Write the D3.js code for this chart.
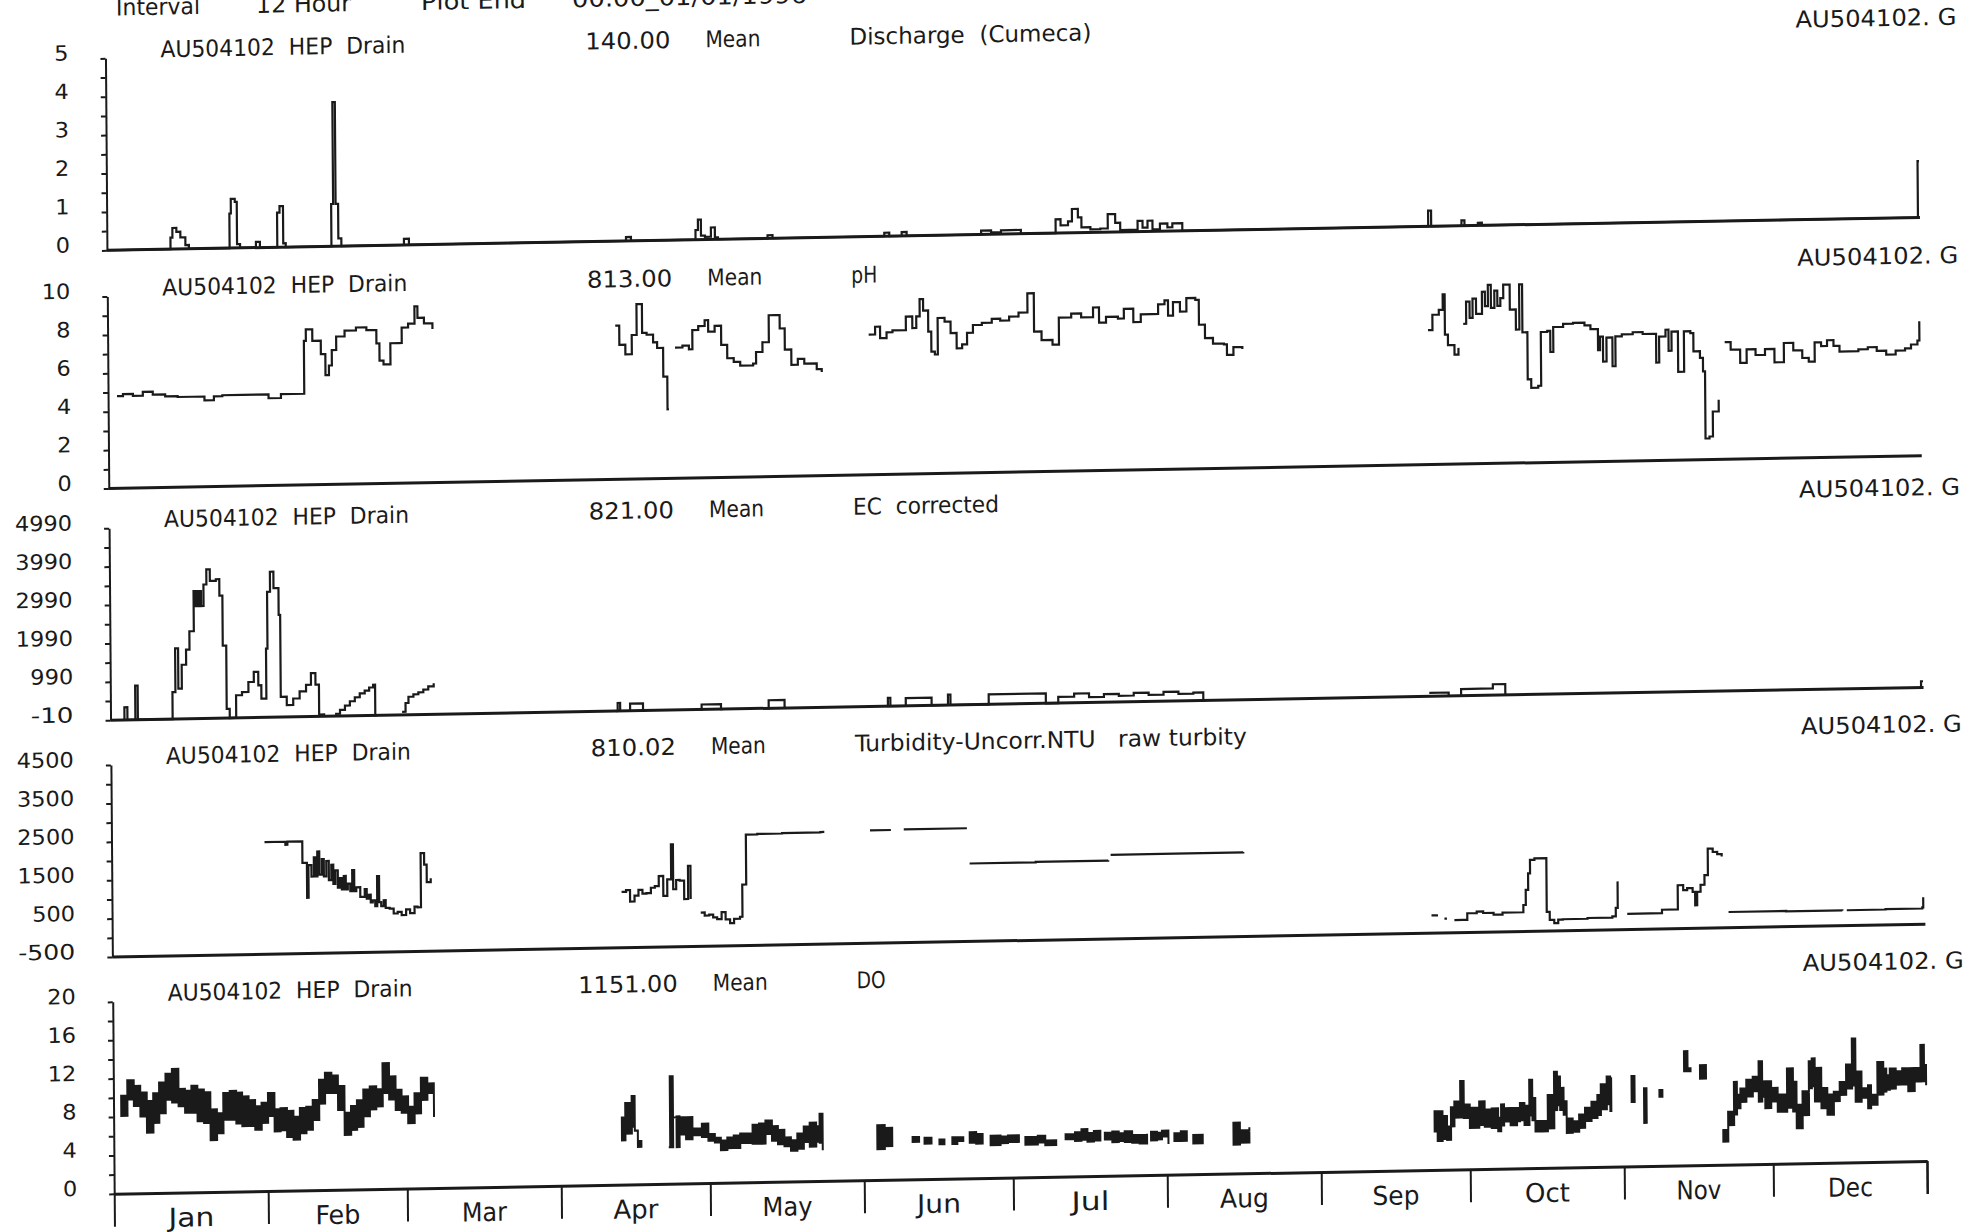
<!DOCTYPE html>
<html><head><meta charset="utf-8">
<script src="https://cdn.jsdelivr.net/npm/d3@7"></script>
<style>
html,body{margin:0;padding:0;background:#fff;overflow:hidden}
text{font-family:"DejaVu Sans Condensed","DejaVu Sans",sans-serif;font-stretch:condensed;fill:#1a1a1a;white-space:pre}
</style></head><body>
<svg id="chart" width="1975" height="1232"></svg>
<script>
const YEAR = 1995;
const months = ["Jan","Feb","Mar","Apr","May","Jun","Jul","Aug","Sep","Oct","Nov","Dec"];
const headerLabels = ["Interval","12 Hour","Plot End","00.00_01/01/1996"];
const stationLabel = "AU504102  HEP  Drain";
const fileLabel = "AU504102. G";
const panelMeans = ["140.00","813.00","821.00","810.02","1151.00"];
const meanWord = "Mean";
const panelNames = ["Discharge  (Cumeca)","pH","EC  corrected","Turbidity-Uncorr.NTU   raw turbity","DO"];
const panelDomains = [[0,5],[0,10],[-10,4990],[-500,4500],[0,20]];
const panelTickLabels = [
  [0,1,2,3,4,5],
  [0,2,4,6,8,10],
  [-10,990,1990,2990,3990,4990],
  [-500,500,1500,2500,3500,4500],
  [0,4,8,12,16,20]
];

// ---- Discharge (day of year, cumecs)
const dischargeSeg = [[0,0],[12.8,0.3],[13.2,0.55],[14,0.45],[14.8,0.3],[15.8,0.1],[16.5,0],
[24.7,0.9],[25,1.28],[25.8,1.2],[26.2,0.1],[26.8,0],[30,0.15],[30.8,0],
[34.3,0.9],[34.8,1.07],[35.5,0.1],[36,0],[45.2,1.1],[45.6,3.75],[46.1,1.1],[46.6,0.2],[47.2,0],
[59.8,0.16],[60.8,0],[104.5,0.1],[105.5,0],
[118.5,0.25],[119,0.52],[119.6,0.1],[120.4,0.07],[121.6,0.31],[122.4,0.05],[123,0],
[133,0.08],[134,0],[156.5,0.09],[157.5,0],[160,0.1],[161,0],
[176,0.1],[178,0.05],[180,0.1],[182,0.1],[184,0],
[191,0.36],[192,0.2],[193.5,0.3],[194.3,0.62],[195.5,0.4],[196.2,0.14],[198,0.08],[200,0.1],[201.5,0.47],[203,0.24],[204,0.05],[207.5,0.28],[208.5,0.1],[209.5,0.28],[210.5,0.05],[212,0.2],[213.5,0.1],[214.5,0.2],[216.5,0],
[266,0.41],[266.6,0],[272.7,0.14],[273.3,0],[276,0.07],[276.8,0],[364.6,1.47],[364.9,1.47]];

// ---- pH
const phA = [[1.8,4.8],[3,4.9],[5,4.8],[7,5.0],[9,4.85],[11.5,4.75],[14,4.7],[17,4.7],[19.4,4.5],[21.3,4.7],[23,4.75],[27,4.75],[32.3,4.55],[34.8,4.75],[39.5,7.5],[39.9,8.1],[41.2,7.5],[42.9,6.8],[43.8,5.7],[44.5,6.2],[45.1,7.0],[46,7.7],[47.7,8.0],[50,8.15],[52.1,8.0],[54.1,7.3],[54.7,6.4],[55.5,6.2],[56.9,7.3],[58.6,7.3],[59.2,8.1],[60.5,8.3],[61.8,9.2],[62.4,8.6],[63.7,8.3],[65.4,8.0]];
const phB1 = [[102.2,8.0],[103,7.0],[104.2,6.5],[105.5,7.5],[106.5,9.1],[107.6,7.6],[108.5,7.5],[109.8,7.1],[110.6,6.8],[111.8,5.3],[112.6,3.6],[112.9,3.6]];
const phB2 = [[114.2,6.8],[115.7,6.9],[117,6.7],[117.7,7.7],[118.9,7.9],[120.2,8.2],[120.9,7.6],[122.2,7.9],[123.5,6.9],[124.7,6.2],[126,6.0],[127.3,5.8],[129.9,5.9],[130.5,6.5],[131.8,7.0],[133.1,8.4],[134.4,8.4],[135.3,7.7],[136.3,6.6],[137.6,5.8],[138.9,6.1],[140.2,5.85],[142.7,5.55],[143.7,5.4]];
const phC = [[153.2,7.3],[154.5,7.7],[155.5,7.1],[156.8,7.4],[158,7.5],[160.7,8.2],[162,7.6],[162.8,8.2],[163.5,9.1],[164.2,8.5],[165.2,7.4],[165.8,6.35],[166.5,6.2],[167.1,8.1],[168.5,7.9],[169.7,7.3],[170.9,6.5],[172,6.7],[173,7.3],[174.2,7.7],[176,7.8],[178,8.0],[179.7,7.9],[181.5,8.1],[183.4,8.3],[185.2,9.3],[186.5,7.3],[188,6.85],[190.2,6.6],[191.5,8.0],[194,8.2],[196,8.0],[198.4,8.5],[199.6,7.7],[201,8.0],[203.4,7.9],[204.6,8.4],[206.5,7.7],[208,8.1],[210.3,8.1],[211.5,8.6],[212.8,8.8],[213.5,8.0],[214.5,8.7],[215.9,8.2],[217.2,8.9],[219,8.8],[219.7,7.5],[220.9,6.8],[222.5,6.5],[224.7,6.45],[225.3,5.9],[226.6,6.3],[228.4,6.2]];
const phD1 = [[265.8,7.0],[266.7,7.8],[268,8.05],[268.8,8.85],[269.2,6.75],[269.8,6.2],[271.1,5.7],[271.9,6.05]];
const phD2 = [[272.9,7.3],[273.5,8.45],[274.2,7.6],[274.8,8.6],[275.5,7.8],[276.7,8.95],[277.3,8.2],[277.9,9.3],[278.5,8.1],[279.2,9.0],[279.8,8.2],[280.4,8.6],[281,9.3],[282.3,8.0],[283.5,6.95],[284.2,9.3],[284.8,6.8],[285.8,4.35],[286.5,3.9],[287.9,4.0],[288.5,6.8],[289.8,6.85],[290.4,5.75],[291,7.05],[293,7.2],[295,7.25],[297.3,7.1],[298.5,6.9],[300,5.8],[300.4,6.5],[301,5.2],[301.7,6.45],[302.9,4.95],[303.5,6.5],[304.8,6.6],[307,6.7],[309,6.6],[311.1,6.6],[311.7,5.1],[312.3,6.45],[313.6,6.8],[314.2,5.7],[314.8,6.7],[316.1,4.6],[317.3,6.7],[318.6,6.6],[319.2,5.65],[320.5,5.3],[321.1,4.6],[321.5,1.1],[322.3,1.2],[323,2.5],[324.2,3.1]];
const phD3 = [[325.5,6.1],[326.7,5.7],[328.6,5.0],[329.9,5.7],[331.7,5.4],[333.6,5.7],[335.5,5.0],[337.4,6.0],[339.3,5.6],[341.1,5.2],[342.4,5.0],[343.6,6.0],[344.9,5.8],[346.1,6.1],[347.4,5.8],[348.6,5.5],[350.5,5.5],[352.4,5.6],[354.3,5.7],[356.1,5.5],[358,5.3],[359.9,5.5],[361.8,5.6],[363,5.8],[364.3,6.0],[364.7,7.0]];

// ---- EC corrected
const ecA = [[2.5,-10],[2.8,320],[3.4,-10],[4.9,-10],[5.0,880],[5.5,-10],[12.4,-10],[12.5,690],[13.1,1830],[13.7,780],[14.4,1400],[15.3,1790],[16.0,2270],[16.9,3310],[17.2,2920],[17.5,3310],[17.8,2920],[18.1,3310],[18.4,2920],[18.9,3480],[19.5,3870],[20.2,3570],[21.4,3610],[22.1,3180],[22.7,1880],[23.4,230],[24.0,-10],[25.0,-10],[25.3,580],[26.5,660],[27.8,920],[28.9,1180],[29.8,830],[30.4,480],[31.4,1780],[31.7,3260],[32.3,3780],[33.0,3350],[34.0,2650],[34.3,520],[35.5,300],[36.8,470],[38.1,650],[39.4,820],[40.4,1120],[41.3,820],[42.0,40],[43,-10]];
const ecB = [[45.2,50],[46.2,150],[47.2,260],[48.2,370],[49.2,470],[50.2,570],[51.2,640],[52.1,720],[52.9,790],[53.3,-10],[53.6,-10]];
const ecC = [[58.7,70],[59.4,300],[60,460],[61,520],[62,570],[63,640],[64,720],[65.1,800]];
const ecD = [[101.8,-10],[102.1,200],[102.6,-10],[104.6,176],[107.2,-10],[107.6,-10]];
const ecE = [[118.7,-10],[119.0,120],[122.9,-10],[123.3,-10]];
const ecF = [[132.2,-10],[132.5,200],[135.7,-10],[136,-10]];
const ecG = [[156.3,-10],[156.5,205],[157.0,-10],[160.1,190],[165.3,-10],[168.6,260],[169.1,-10],[176.8,250],[188.3,-10],[190.8,150],[194,230],[197,130],[200,200],[203,150],[206,220],[209,160],[212,230],[215,170],[218,200],[220,-10],[220.5,-10]];
const ecH = [[265.5,80],[269.4,-10],[271.9,165],[276,165],[278.3,275],[280.8,-10],[281.2,-10]];
const ecI = [[364.3,-10],[364.5,150],[364.9,150]];

// ---- Turbidity
const tuA = [[30.8,2420],[34.8,2420],[35,2340],[35.4,2420],[38.4,1860],[39.3,950],[39.6,1800],[40.2,1500],[40.7,2000],[41.1,1500],[41.4,2150],[41.8,1550],[42.3,1950],[42.7,1500],[43.2,1900],[43.7,1400],[44.2,1800],[44.6,1300],[45,1650],[45.5,1200],[45.9,1450],[46.3,1150],[46.7,1500],[47.1,1150],[47.5,1300],[48,1100],[48.4,1650],[48.8,1100],[49.2,1200],[50,950],[50.9,1150],[51.3,900],[51.7,1000],[52.1,800],[52.5,850],[53,700],[53.4,1480],[53.8,800],[54.2,700],[54.7,850],[55.1,650],[55.9,630],[56.7,500],[57.5,540],[58.3,455],[59.2,600],[60,500],[60.9,670],[61.5,650],[62.2,2060],[62.9,1760],[63.4,1300],[64.2,1400]];
const tuB = [[102.6,955],[103.5,1000],[104.3,700],[105.2,850],[106,1000],[106.8,900],[107.6,910],[108.5,1050],[109.3,1090],[110.1,1350],[111,830],[111.8,1260],[112.6,2170],[113,1000],[113.6,1240],[114.3,1220],[115.2,740],[116,1600],[116.5,740]];
const tuC = [[118.5,380],[119.3,300],[120.2,320],[121,250],[121.8,200],[122.7,380],[123.5,190],[124.4,90],[125.2,200],[126.4,250],[126.9,1090],[127.7,2390],[130,2400],[135,2410],[142.7,2420],[143.5,2420]];
const tuD = [[152.7,2440],[156.9,2440]];
const tuE = [[159.5,2450],[172.2,2450]];
const tuF = [[172.7,1530],[186,1540],[200.6,1550]];
const tuG = [[201.1,1690],[214,1690],[227.8,1700]];
const tuH = [[265.6,-40],[266.9,-40]];
const tuI = [[268.2,-130],[268.7,-130]];
const tuJ = [[270.2,-170],[271.9,-170],[272.8,0],[274.7,40],[276,0],[278.1,-50],[279.9,0],[284.1,190],[284.6,580],[285.1,1010],[285.5,1360],[286.4,1400],[288.8,0],[289.4,-210],[290.3,-300],[291.1,-210],[292,-200],[297,-180],[302,-150],[302.7,70],[303.1,760]];
const tuK = [[305,-90],[312,0],[315.2,630],[316.3,500],[317.1,550],[318.2,450],[318.7,100],[319.1,450],[319.8,630],[320.6,880],[321.3,1570],[322.3,1480],[323.2,1420],[324.1,1360]];
const tuL = [[325.4,-90],[337,-100],[348.3,-110]];
const tuM = [[349.2,-100],[357,-90],[364.4,-60],[364.6,200]];

// ---- DO: [day, low, high]
const doA = [[1.55,8.1,10.2],[2.8,9.8,11.8],[4.1,9.1,11.2],[5.4,8.0,10.5],[6.7,6.3,9.6],[8.0,7.3,10.4],[9.2,8.3,11.5],[10.5,9.7,12.4],[11.8,9.4,12.9],[13.1,9.0,10.8],[14.4,8.3,10.6],[15.7,8.3,11.1],[16.9,7.4,10.7],[18.2,7.2,10.4],[19.5,5.4,8.6],[20.8,6.1,8.2],[22.1,7.5,10.3],[23.4,7.5,10.5],[24.7,7.1,10.3],[25.9,6.8,9.9],[27.2,6.8,9.5],[28.5,6.4,8.85],[29.8,7.1,9.2],[31.1,7.8,10.2],[32.4,6.2,8.5],[33.6,6.3,8.6],[34.9,5.6,8.3],[36.2,5.3,7.7],[37.5,5.95,8.6],[38.8,6.3,8.7],[40.1,7.3,9.4],[41.4,9.0,11.5],[42.6,10.1,12.2],[43.9,10.1,11.9],[45.2,8.3,10.8],[46.5,5.7,8.0],[47.8,6.2,8.7],[49.0,6.5,9.3],[50.3,7.6,10.4],[51.6,8.3,10.7],[52.9,8.6,10.4],[54.2,10.0,13.1],[55.5,9.3,11.7],[56.8,8.2,10.3],[58.0,7.9,9.6],[59.3,6.8,8.5],[60.6,7.8,9.9],[61.9,9.2,11.5],[63.2,9.9,10.9],[64.5,7.4,9.9]];
const doB = [[102.3,4.6,7.0],[103.0,5.3,8.5],[104.3,6.0,9.2],[104.9,5.6,5.6],[105.5,3.9,4.5],[106.2,3.9,4.5]];
const doC = [[111.7,3.8,3.8],[112.0,3.8,11.2],[112.6,6.9,6.9],[113.3,3.8,7.0],[113.9,5.1,6.9],[115.2,4.6,6.9],[116.5,5.0,5.7],[118.4,4.8,6.2],[119.7,4.4,5.1],[121.0,4.2,4.7],[122.2,3.4,4.4],[123.5,3.6,4.7],[124.8,3.6,4.9],[126.1,4.1,5.1],[127.4,4.1,5.1],[128.6,4.0,6.0],[129.9,4.0,6.1],[131.2,5.0,6.4],[132.5,4.3,5.8],[133.7,3.9,5.4],[135.0,3.7,4.6],[136.3,3.2,4.3],[137.6,3.4,5.0],[138.9,4.1,5.7],[140.1,3.6,6.1],[141.4,4.1,5.7],[142.1,4.0,7.0],[142.7,3.2,5.6]];
const doD = [[153.7,3.2,5.7],[155.2,3.5,5.4],[156.7,3.8,4.3]];
const doE = [[160.8,3.9,4.4],[162.1,4.0,4.3]];
const doF = [[163.2,3.7,4.3],[164.6,3.9,4.2]];
const doG = [[166.2,3.6,4.1],[167.2,3.9,4.0]];
const doH = [[168.8,3.6,4.3],[169.8,3.9,4.3],[171,3.9,4.0]];
const doI = [[172.3,3.7,4.8],[173.6,3.6,4.6],[174.9,3.6,4.3]];
const doJ = [[176.5,3.4,4.4],[178.5,3.6,4.3],[180,3.7,4.4],[182.2,3.6,4.3]];
const doK = [[183.5,3.4,4.2],[186,3.6,4.3],[187.5,3.3,3.8],[189.7,3.4,3.8]];
const doL = [[191.6,3.9,4.4],[193.5,3.7,4.6],[194.8,3.8,4.9],[196,3.6,4.5],[197.3,3.7,4.7],[198.6,3.9,4.5]];
const doM = [[199.5,3.8,4.5],[201,3.5,4.6],[202.3,3.6,4.4],[203.5,3.5,4.6],[205,3.4,4.2],[206.5,3.3,4.2],[208,3.6,4.3]];
const doN = [[208.8,3.6,4.5],[210,3.7,4.4],[211,4.0,4.6],[212.3,3.2,4.1]];
const doO = [[213.5,3.5,4.3],[214.8,3.5,4.5],[216,3.6,4.2]];
const doP = [[217.3,3.2,4.1],[219.2,3.3,4.0]];
const doQ = [[225.4,3.0,5.3],[226.7,3.2,4.5],[228.6,3.4,4.8]];
const doR = [[265.9,4.0,6.1],[266.5,3.0,6.1],[267.5,3.2,5.6],[268.4,3.1,4.5],[269.2,4.5,6.5],[269.9,5.4,7.1],[271.1,5.4,9.2],[271.8,5.35,6.75],[273.0,4.3,6.4],[274.9,4.6,7.05],[276,4.4,6.2],[277.4,4.25,6.3],[278.7,3.9,5.3],[279.3,4.5,6.7],[279.9,4.9,6.3],[281.2,4.5,6.3],[282.5,4.9,6.3],[283.1,5.0,6.8],[284,4.5,6.5],[285.0,5.5,9.2],[285.6,5.0,7.3],[286.2,3.8,4.9],[287.5,3.8,4.9],[288.7,4.1,7.6],[290.0,6.0,10.0],[290.6,6.5,9.5],[291.2,6.0,8.3],[291.9,5.5,6.9],[292.5,3.6,5.1],[293.7,3.7,4.8],[295.0,4.1,5.5],[296.2,4.8,6.2],[297.5,5.1,6.8],[298.7,5.4,7.5],[299.4,6.0,8.6],[300.6,6.5,9.4],[301.3,5.8,9.2],[301.5,5.8,5.8]];
const doS = [[305.6,6.7,9.4],[306.2,6.7,7.8]];
const doT = [[308.1,4.5,8.1],[308.6,4.5,4.5]];
const doU = [[311.2,7.2,7.9],[311.8,7.2,7.2]];
const doV = [[316.2,9.8,11.9],[316.9,9.8,10.1],[317.5,9.8,9.8]];
const doW = [[319.4,9.0,10.4],[320.6,9.05,9.05]];
const doX = [[324.0,2.4,3.6],[325.0,4.1,5.5],[326.2,5.2,8.6],[326.8,5.85,7.25],[327.5,6.5,7.9],[328.7,7.05,8.8],[330.0,7.6,9.1],[331.2,6.5,10.7],[331.9,7.0,8.6],[332.5,5.8,8.6],[333.7,6.5,7.9],[335.0,5.4,7.2],[336.9,5.8,9.9],[338.1,5.4,8.5],[338.8,3.65,6.1],[340.0,5.0,7.5],[341.3,7.8,10.6],[341.9,8.0,10.9],[342.5,6.4,9.9],[343.8,5.7,7.8],[345.0,5.0,7.1],[346.3,6.4,7.4],[347.5,7.05,8.4],[348.8,7.7,10.2],[350.0,8.0,12.9],[350.7,6.3,9.45],[351.9,6.7,7.7],[353.2,5.6,8.0],[353.8,5.95,7.0],[355.1,7.0,10.4],[356.3,7.3,9.7],[356.9,7.5,9.0],[357.6,7.6,9.7],[358.8,8.0,9.4],[360.1,8.0,9.7],[361.3,7.3,9.7],[362.6,8.3,9.7],[363.8,8.3,12.1],[364.5,8.3,10.0],[364.9,7.9,9.6]];

const panelSeries = [
  [dischargeSeg],
  [phA,phB1,phB2,phC,phD1,phD2,phD3],
  [ecA,ecB,ecC,ecD,ecE,ecF,ecG,ecH,ecI],
  [tuA,tuB,tuC,tuD,tuE,tuF,tuG,tuH,tuI,tuJ,tuK,tuL,tuM],
  [doA,doB,doC,doD,doE,doF,doG,doH,doI,doJ,doK,doL,doM,doN,doO,doP,doQ,doR,doS,doT,doU,doV,doW,doX]
];

// ---------------- layout
const titleY = [51.7, 289.9, 521.6, 758.4, 995.2];
const X0 = 105, X1 = 1918;
const INK = "#1a1a1a";

const svg = d3.select("#chart");
svg.append("rect").attr("width",1975).attr("height",1232).attr("fill","#fff");
const g = svg.append("g").attr("transform","matrix(1,-0.0181,0.0077,1,0,0)");

const t0 = new Date(YEAR,0,1), t1 = new Date(YEAR+1,0,1);
const x = d3.scaleTime().domain([t0,t1]).range([X0,X1]);
const dayDate = d => d3.timeMinute.offset(t0, Math.round(d*1440));

function txt(sel, s, px, py, size, width, anchor){
  const t = sel.append("text").attr("x",px).attr("y",py).attr("font-size",size)
    .attr("text-anchor",anchor||"start").text(s);
  if (width) t.attr("textLength",width).attr("lengthAdjust","spacingAndGlyphs");
  return t;
}

// header (cut off at top)
const headerX = [116,256,421,572], headerW = [84,95,105,235];
headerLabels.forEach((s,i)=> txt(g, s, headerX[i], 17.5, 23, headerW[i]));

const nameW = [242,26,146,392,29];

panelSeries.forEach((segs,i)=>{
  const ty = titleY[i], top = ty+8.5, bot = ty+200.5;
  const dom = panelDomains[i];
  const y = d3.scaleLinear().domain(dom).range([bot, top]);
  const pg = g.append("g");

  // y axis with minor ticks
  const minor = d3.range(11).map(k => dom[0] + k*(dom[1]-dom[0])/10);
  const ax = pg.append("g").attr("transform",`translate(${X0},0)`)
    .call(d3.axisLeft(y).tickValues(minor).tickSize(5).tickSizeOuter(0).tickFormat(""));
  ax.selectAll("path,line").attr("stroke",INK).attr("stroke-width",2);

  // tick labels
  panelTickLabels[i].forEach(v=>{
    const s = String(v);
    txt(pg, s, 68, y(v)+1.6, 21, s.length*14.3, "end");
  });

  // baseline / time axis
  if (i === 4) {
    const bx = pg.append("g").attr("transform",`translate(0,${bot})`)
      .call(d3.axisBottom(x).ticks(d3.timeMonth.every(1)).tickSize(33).tickSizeOuter(0).tickFormat(""));
    bx.selectAll("path").attr("stroke",INK).attr("stroke-width",3);
    bx.selectAll("line").attr("stroke",INK).attr("stroke-width",2);
    // end tick at Dec 31 boundary
    pg.append("line").attr("x1",x(t1)).attr("x2",x(t1)).attr("y1",bot).attr("y2",bot+33)
      .attr("stroke",INK).attr("stroke-width",2);
    const mStarts = d3.timeMonth.range(t0, d3.timeDay.offset(t1,1));
    const mw = [46,45,45,45,50,44,38,49,47,45,45,45];
    months.forEach((m,k)=>{
      const cx = (x(mStarts[k]) + x(mStarts[k+1]))/2;
      txt(pg, m, cx, bot+34, 26, mw[k], "middle");
    });
  } else {
    pg.append("line").attr("x1",X0).attr("x2",X1).attr("y1",bot).attr("y2",bot)
      .attr("stroke",INK).attr("stroke-width",3);
  }

  // titles
  const tb = ty + 8.4;
  txt(pg, stationLabel, 160, tb, 23, 245);
  txt(pg, panelMeans[i], 670, tb, 23, panelMeans[i].length*14.2, "end");
  txt(pg, meanWord, 705, tb, 23, 55);
  txt(pg, panelNames[i], 849, tb, 23, nameW[i]);
  txt(pg, fileLabel, 1795, tb, 23, 161);

  // data
  if (i === 4) {
    const area = d3.area().x(d=>x(dayDate(d[0]))).y0(d=>y(d[1])).y1(d=>y(d[2])).curve(d3.curveStepAfter);
    segs.forEach(s=> pg.append("path").attr("d",area(s)).attr("fill",INK)
      .attr("stroke",INK).attr("stroke-width",2).attr("stroke-linejoin","miter"));
  } else {
    const line = d3.line().x(d=>x(dayDate(d[0]))).y(d=>y(d[1])).curve(d3.curveStepAfter);
    segs.forEach(s=> pg.append("path").attr("d",line(s)).attr("fill","none")
      .attr("stroke",INK).attr("stroke-width",2.2));
  }
});
</script>
</body></html>
